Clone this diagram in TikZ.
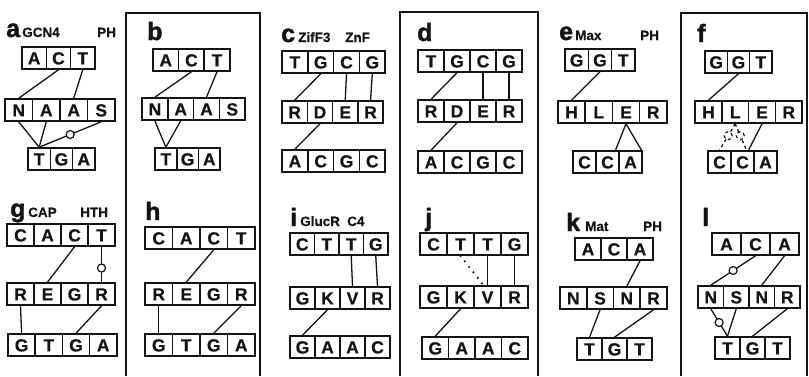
\documentclass[tikz,border=0pt]{standalone}
\usepackage{fontspec}
\setmainfont{Liberation Sans}
\newfontfamily\heavyfont[FakeBold=1.6]{Liberation Sans Bold}
\newfontfamily\boxfont[FakeBold=0.5]{Liberation Sans Bold}
\usetikzlibrary{positioning}
\definecolor{ink}{HTML}{141414}
% one row of bases or residues: name, left edge, centre height, box width, letters
\newcommand{\BaseRow}[5]{%
  \foreach \res [count=\k] in {#5}
    \node[base, minimum width=#4pt] (#1-\k) at ({#2+#4*(\k-0.5)},#3) {\res};
}

\begin{document}
\begin{tikzpicture}[x=1pt, y=-1pt, ink,
    base/.style={draw=ink, line width=1.6pt, minimum height=22pt, inner sep=0pt,
      text height=12.8pt, text depth=0pt, font=\boxfont\fontsize{17.5}{17.5}\selectfont},
    bond/.style={line width=1.3pt},
    wat/.style={circle, draw=ink, line width=1.2pt, fill=white, inner sep=0pt, minimum size=8pt},
    frame/.style={line width=1.6pt},
    plet/.style={anchor=base west, inner sep=0pt, font=\heavyfont\fontsize{25}{25}\selectfont},
    ptag/.style={anchor=base west, inner sep=0pt, font=\boxfont\fontsize{13.5}{13.5}\selectfont},
  ]
\useasboundingbox (0,0) rectangle (809,376);

% --- Frames round the second panel of each pair ------------------------------
\draw[frame] (126,376) |- (260,13) -- (260,376);
\draw[frame] (400,376) |- (538,12) -- (538,376);
\draw[frame] (681,376) |- (807,13) -- (807,376);

% --- Panel labels --------------------------------------------------------------
\node[plet] (la) at (6,37) {a};
\node[ptag] (na) at (22,37) {GCN4};
\node[ptag] (fa) at (97,37) {PH};
\node[plet] (lb) at (147,40) {b};
\node[plet] (lc) at (281,42) {c};
\node[ptag] (nc) at (298,42) {ZifF3};
\node[ptag] (fc) at (345,42) {ZnF};
\node[plet] (ld) at (417,41) {d};
\node[plet] (le) at (559,40) {e};
\node[ptag] (ne) at (575,40) {Max};
\node[ptag] (fe) at (640,40) {PH};
\node[plet] (lf) at (697,42) {f};
\node[plet] (lg) at (10,217) {g};
\node[ptag] (ng) at (28,217) {CAP};
\node[ptag] (fg) at (80,217) {HTH};
\node[plet] (lh) at (145,220) {h};
\node[plet] (li) at (290,226) {i};
\node[ptag] (ni) at (300,226) {GlucR};
\node[ptag] (fi) at (347,226) {C4};
\node[plet] (lj) at (425,226) {j};
\node[plet] (lk) at (566,231) {k};
\node[ptag] (nk) at (585,231) {Mat};
\node[ptag] (fk) at (643,231) {PH};
\node[plet] (ll) at (702,226) {l};

% --- Rows: DNA strand, protein, DNA strand -------------------------------------
\BaseRow{a1}{22}{58}{24.3}{A,C,T}
\BaseRow{a2}{5}{110}{27.5}{N,A,A,S}
\BaseRow{a3}{28}{159}{22.3}{T,G,A}
\BaseRow{b1}{153}{60}{25.6}{A,C,T}
\BaseRow{b2}{142}{109}{25.8}{N,A,A,S}
\BaseRow{b3}{155}{159}{21.7}{T,G,A}
\BaseRow{c1}{282}{62}{25.8}{T,G,C,G}
\BaseRow{c2}{282}{112}{25.3}{R,D,E,R}
\BaseRow{c3}{282}{161}{25.8}{A,C,G,C}
\BaseRow{d1}{418}{61}{26}{T,G,C,G}
\BaseRow{d2}{418}{111}{26}{R,D,E,R}
\BaseRow{d3}{418}{162}{26}{A,C,G,C}
\BaseRow{e1}{565}{60}{23.3}{G,G,T}
\BaseRow{e2}{558}{112}{27.2}{H,L,E,R}
\BaseRow{e3}{573}{162}{23}{C,C,A}
\BaseRow{f1}{705}{62}{22.3}{G,G,T}
\BaseRow{f2}{695}{112}{26.8}{H,L,E,R}
\BaseRow{f3}{708}{162}{23}{C,C,A}
\BaseRow{g1}{7}{235}{27}{C,A,C,T}
\BaseRow{g2}{7}{294}{27}{R,E,G,R}
\BaseRow{g3}{8}{345}{27.2}{G,T,G,A}
\BaseRow{h1}{145}{238}{27.5}{C,A,C,T}
\BaseRow{h2}{145}{294}{27.5}{R,E,G,R}
\BaseRow{h3}{145}{345}{27.5}{G,T,G,A}
\BaseRow{i1}{290}{244}{24.5}{C,T,T,G}
\BaseRow{i2}{290}{298}{25}{G,K,V,R}
\BaseRow{i3}{290}{347}{25}{G,A,A,C}
\BaseRow{j1}{420}{244}{27}{C,T,T,G}
\BaseRow{j2}{420}{297}{27}{G,K,V,R}
\BaseRow{j3}{422}{348}{26.5}{G,A,A,C}
\BaseRow{k1}{575}{249}{26}{A,C,A}
\BaseRow{k2}{560}{298}{26.7}{N,S,N,R}
\BaseRow{k3}{577}{349}{25}{T,G,T}
\BaseRow{l1}{712}{244}{29}{A,C,A}
\BaseRow{l2}{698}{297}{25.5}{N,S,N,R}
\BaseRow{l3}{715}{348}{25}{T,G,T}

% --- Contacts --------------------------------------------------------------------
% a, b
\draw[bond] (a1-2.south) -- (a2-1.north);
\draw[bond] (a1-3.south) -- (a2-3.north);
\draw[bond] (a2-1.south) -- (a3-1.north);
\draw[bond] (a2-2.south) -- (a3-1.north);
\draw[bond] (a2-4.south) -- node[wat] {} (a3-1.north);
\draw[bond] (b1-2.south) -- (b2-1.north);
\draw[bond] (b1-3.south) -- (b2-3.north);
\draw[bond] (b2-1.south) -- (b3-1.north);
\draw[bond] (b2-2.south) -- (b3-1.north);
% c, d
\foreach \p in {c,d} {
  \draw[bond] (\p1-2.south) -- (\p2-1.north);
  \draw[bond] (\p1-3.south) -- (\p2-3.north);
  \draw[bond] (\p1-4.south) -- (\p2-4.north);
  \draw[bond] (\p2-2.south) -- (\p3-1.north);
}
% e, f
\draw[bond] (e1-2.south) -- (e2-1.north);
\draw[bond] (e2-3.south) -- ([xshift=8pt]e3-2.north);
\draw[bond] (e2-3.south) -- ([xshift=11pt]e3-3.north);
\draw[bond] (f1-2.south) -- (f2-1.north);
\draw[bond] (f2-3.south) -- ([xshift=6pt]f3-2.north);
\draw[bond, dashed] (f2-2.south) -- node[wat, pos=0.45] {} (f3-1.north);
\draw[bond, dashed] (f2-2.south) -- node[wat, pos=0.45] {} ([xshift=4pt]f3-2.north);
% g, h
\draw[bond] (g1-3.south) -- (g2-2.north);
\draw[bond] (g1-4.south) -- node[wat, pos=0.6] {} (g2-4.north);
\draw[bond] (g2-1.south) -- (g3-1.north);
\draw[bond] (g2-4.south) -- (g3-3.north);
\draw[bond] (h1-3.south) -- (h2-2.north);
\draw[bond] (h2-1.south) -- (h3-1.north);
\draw[bond] (h2-4.south) -- (h3-3.north);
% i, j
\foreach \p in {i,j} {
  \draw[bond] (\p1-3.south) -- (\p2-3.north);
  \draw[bond] (\p1-4.south) -- (\p2-4.north);
  \draw[bond] (\p2-2.south) -- (\p3-1.north);
}
\draw[line width=2.4pt, line cap=round, dash pattern=on 0pt off 7pt] (j1-2.south) -- ([xshift=-4pt]j2-3.north);
% k, l
\draw[bond] (k1-3.south) -- (k2-3.north);
\draw[bond] (k2-2.south) -- (k3-1.north);
\draw[bond] (k2-4.south) -- (k3-2.north);
\draw[bond] (l1-2.south) -- node[wat] {} (l2-1.north);
\draw[bond] (l1-3.south) -- (l2-3.north);
\draw[bond] (l2-1.south) -- node[wat] {} (l3-1.north);
\draw[bond] (l2-2.south) -- (l3-1.north);
\draw[bond] (l2-4.south) -- (l3-2.north);
\end{tikzpicture}
\end{document}
